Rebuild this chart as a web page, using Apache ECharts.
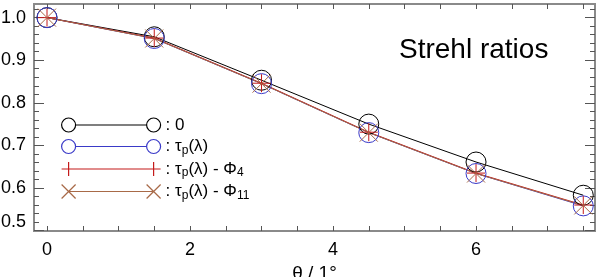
<!DOCTYPE html>
<html>
<head>
<meta charset="utf-8">
<script src="https://cdn.jsdelivr.net/npm/echarts@6/dist/echarts.min.js"></script>
<style>
    html, body { margin: 0; padding: 0; background: #fff; }
    #chart { width: 600px; height: 277px; }
</style>
</head>
<body>
<div id="chart"></div>
<script>
// angle theta (deg)
const thetaValues = [0, 1.5, 3, 4.5, 6, 7.5];
// Strehl ratios, one array per case
const strehlZero = [1.0, 0.955, 0.853, 0.750, 0.661, 0.583];
const strehlTau = [1.0, 0.951, 0.845, 0.730, 0.634, 0.558];
const strehlTauPhi4 = [1.0, 0.952, 0.846, 0.731, 0.635, 0.560];
const strehlTauPhi11 = [1.0, 0.951, 0.845, 0.730, 0.634, 0.559];

const xLabelValues = [0, 2, 4, 6];
const xTickValues = [0, 0.5, 1, 1.5, 2, 2.5, 3, 3.5, 4, 4.5, 5, 5.5, 6, 6.5, 7, 7.5];
const yLabelValues = [0.5, 0.6, 0.7, 0.8, 0.9, 1.0];
const yMinorValues = [0.52, 0.54, 0.56, 0.58, 0.62, 0.64, 0.66, 0.68, 0.72, 0.74, 0.76, 0.78,
    0.82, 0.84, 0.86, 0.88, 0.92, 0.94, 0.96, 0.98, 1.02];

const FONT = "'Liberation Sans', Arial, Helvetica, sans-serif";
const FRAME = "#8a8a8a";

const zip = (ys) => thetaValues.map((x, i) => [x, ys[i]]);

// symbols
const circleSym = "circle";
const plusSym = "path://M10,0 L10,20 M0,10 L20,10";
const crossSym = "path://M0,0 L20,20 M20,0 L0,20";
// legend samples: marker - line - marker
const legCircle = "path://M0,7 A7,7 0 1,1 14,7 A7,7 0 1,1 0,7 Z M14,7 L85,7 M85,7 A7,7 0 1,1 99,7 A7,7 0 1,1 85,7 Z";
const legPlus = "path://M7,0 L7,14 M0,7 L99,7 M92,0 L92,14";
const legCross = "path://M0,0 L14,14 M14,0 L0,14 M7,7 L92,7 M85,0 L99,14 M99,0 L85,14";

const cases = [
    { name: "0", data: strehlZero, color: "#000000", symbol: circleSym, size: 20, icon: legCircle, label: ": 0" },
    { name: "tau", data: strehlTau, color: "#3a3ac8", symbol: circleSym, size: 20, icon: legCircle, label: ": τ{sub|p}(λ)" },
    { name: "tauphi4", data: strehlTauPhi4, color: "#c41a1a", symbol: plusSym, size: 18, icon: legPlus, label: ": τ{sub|p}(λ) - Φ{sub|4}" },
    { name: "tauphi11", data: strehlTauPhi11, color: "#a86a48", symbol: crossSym, size: 18, icon: legCross, label: ": τ{sub|p}(λ) - Φ{sub|11}" },
];

const XMIN = -0.182, XMAX = 7.664;
const YMIN = 0.499, YMAX = 1.032;

function xAxisDef(pos, withLabels) {
    return {
        type: "value",
        position: pos,
        min: XMIN,
        max: XMAX,
        axisLine: { show: true, onZero: false, lineStyle: { color: FRAME, width: 2 } },
        axisTick: { show: true, inside: true, length: 5, customValues: xTickValues, lineStyle: { color: "#555", width: 1 } },
        axisLabel: withLabels
            ? { show: true, customValues: xLabelValues, margin: 10, fontSize: 18, color: "#000", fontFamily: FONT }
            : { show: false },
        splitLine: { show: false },
        name: withLabels ? "θ / 1°" : "",
        nameLocation: "middle",
        nameGap: 17,
        nameTextStyle: { fontSize: 19, color: "#000", fontFamily: FONT },
    };
}

function yAxisDef(pos, values, len, withLabels) {
    return {
        type: "value",
        position: pos,
        min: YMIN,
        max: YMAX,
        axisLine: { show: true, onZero: false, lineStyle: { color: FRAME, width: 2 } },
        axisTick: { show: true, inside: true, length: len, customValues: values, lineStyle: { color: "#555", width: 1 } },
        axisLabel: withLabels
            ? {
                  show: true,
                  customValues: yLabelValues,
                  margin: 8,
                  fontSize: 18,
                  color: "#000",
                  fontFamily: FONT,
                  verticalAlignMinLabel: "bottom",
                  formatter: (v) => v.toFixed(1),
              }
            : { show: false },
        splitLine: { show: false },
    };
}

const chart = echarts.init(document.getElementById("chart"), null, { renderer: "canvas" });

const option = {
    animation: false,
    backgroundColor: "#fff",
    textStyle: { fontFamily: FONT },
    title: {
        text: "Strehl ratios",
        left: 399,
        top: 36,
        padding: 0,
        textStyle: { fontSize: 28, fontWeight: "normal", color: "#000", fontFamily: FONT },
    },
    grid: { left: 34, right: 5, top: 4, bottom: 46, containLabel: false, outerBoundsMode: "none" },
    legend: {
        orient: "vertical",
        left: 61,
        top: 116,
        padding: 0,
        itemWidth: 99,
        itemHeight: 14,
        itemGap: 2.5,
        selectedMode: false,
        symbolKeepAspect: true,
        data: cases.map((c) => ({
            name: c.name,
            icon: c.icon,
            itemStyle: { color: "rgba(0,0,0,0)", borderColor: c.color, borderWidth: 1.2, opacity: 1 },
        })),
        formatter: (name) => cases.find((c) => c.name === name).label,
        textStyle: {
            fontSize: 17,
            color: "#000",
            fontFamily: FONT,
            lineHeight: 18,
            rich: {
                sub: { fontSize: 12, color: "#000", fontFamily: FONT, lineHeight: 18, padding: [8, 0, 0, 0] },
            },
        },
    },
    xAxis: [xAxisDef("bottom", true), xAxisDef("top", false)],
    yAxis: [
        yAxisDef("left", yLabelValues, 10, true),
        yAxisDef("left", yMinorValues, 5, false),
        yAxisDef("right", yLabelValues, 10, false),
        yAxisDef("right", yMinorValues, 5, false),
    ],
    series: cases.map((c) => ({
        name: c.name,
        type: "line",
        xAxisIndex: 0,
        yAxisIndex: 0,
        data: zip(c.data),
        symbol: c.symbol,
        symbolSize: c.size,
        showAllSymbol: true,
        lineStyle: { color: c.color, width: 1 },
        itemStyle: { color: "rgba(0,0,0,0)", borderColor: c.color, borderWidth: 1 },
        emphasis: { disabled: true },
    })),
};

chart.setOption(option);
</script>
</body>
</html>
